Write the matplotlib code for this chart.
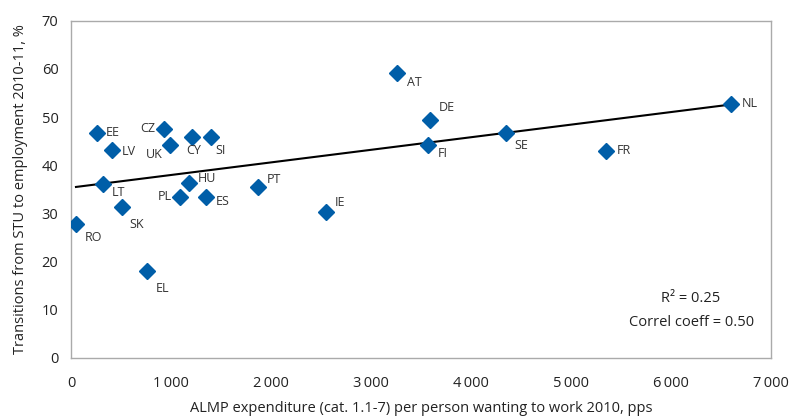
import numpy as np
import matplotlib
matplotlib.use("Agg")
import matplotlib.pyplot as plt

# Country codes and values
countries = ["RO", "EE", "LV", "LT", "SK", "EL", "CZ", "UK", "CY", "SI", "HU",
             "PL", "ES", "PT", "IE", "AT", "DE", "FI", "SE", "FR", "NL"]
almp = [50, 260, 410, 320, 510, 760, 930, 990, 1210, 1400, 1180,
        1090, 1350, 1870, 2550, 3260, 3590, 3570, 4350, 5350, 6600]
transitions = [27.8, 46.7, 43.2, 36.1, 31.4, 18.1, 47.6, 44.2, 45.9, 45.9, 36.4,
               33.4, 33.4, 35.5, 30.3, 59.2, 49.4, 44.2, 46.7, 43.0, 52.8]

# label offsets in points (dx, dy, ha)
offsets = {
    "RO": (6, -10, "left"), "EE": (6, 0, "left"), "LV": (7, -1, "left"),
    "LT": (6, -6, "left"), "SK": (5, -13, "left"), "EL": (6, -13, "left"),
    "CZ": (-6, 0, "right"), "UK": (-5, -7, "right"), "CY": (1, -10, "center"),
    "SI": (3, -10, "left"), "HU": (6, 3, "left"), "PL": (-6, 0, "right"),
    "ES": (7, -3, "left"), "PT": (6, 5, "left"), "IE": (6, 7, "left"),
    "AT": (7, -7, "left"), "DE": (6, 9, "left"), "FI": (7, -6, "left"),
    "SE": (6, -9, "left"), "FR": (8, 0, "left"), "NL": (8, 0, "left"),
}

blue = "#005EA8"
plt.rcParams["font.family"] = ["Open Sans", "DejaVu Sans"]

fig, ax = plt.subplots(figsize=(8.02, 4.16), dpi=100)
fig.subplots_adjust(left=0.0885, right=0.9615, top=0.95, bottom=0.14)

x = np.array(almp)
y = np.array(transitions)
slope, intercept = np.polyfit(x, y, 1)
xs = np.array([x.min(), x.max()])
ax.plot(xs, slope * xs + intercept, color="black", lw=1.5, zorder=2)

ax.plot(x, y, linestyle="none", marker="D", markersize=8.5, color=blue, zorder=3)

for c, xv, yv in zip(countries, almp, transitions):
    dx, dy, ha = offsets[c]
    ax.annotate(c, (xv, yv), xytext=(dx, dy), textcoords="offset points",
                ha=ha, va="center", fontsize=9, color="#333333")

ax.set_xlim(0, 7000)
ax.set_ylim(0, 70)
ax.set_xticks(range(0, 7001, 1000))
ax.set_xticklabels(["0", "1\u2009000", "2\u2009000", "3\u2009000", "4\u2009000",
                    "5\u2009000", "6\u2009000", "7\u2009000"])
ax.set_yticks(range(0, 71, 10))
ax.tick_params(length=0, labelsize=10.5, colors="#222222")
ax.tick_params(axis="x", pad=13)
ax.tick_params(axis="y", pad=9)
for s in ax.spines.values():
    s.set_color("#aaaaaa")
    s.set_linewidth(1)

ax.set_xlabel("ALMP expenditure (cat. 1.1-7) per person wanting to work 2010, pps",
              fontsize=10.5, color="#222222", labelpad=7)
ax.set_ylabel("Transitions from STU to employment 2010-11, %",
              fontsize=10.5, color="#222222", labelpad=10)

ax.text(6200, 9.8, "R\u00b2 = 0.25\nCorrel coeff = 0.50", ha="center", va="center",
        fontsize=10.5, color="#222222", linespacing=1.75)

fig.savefig("out.png", dpi=100)
